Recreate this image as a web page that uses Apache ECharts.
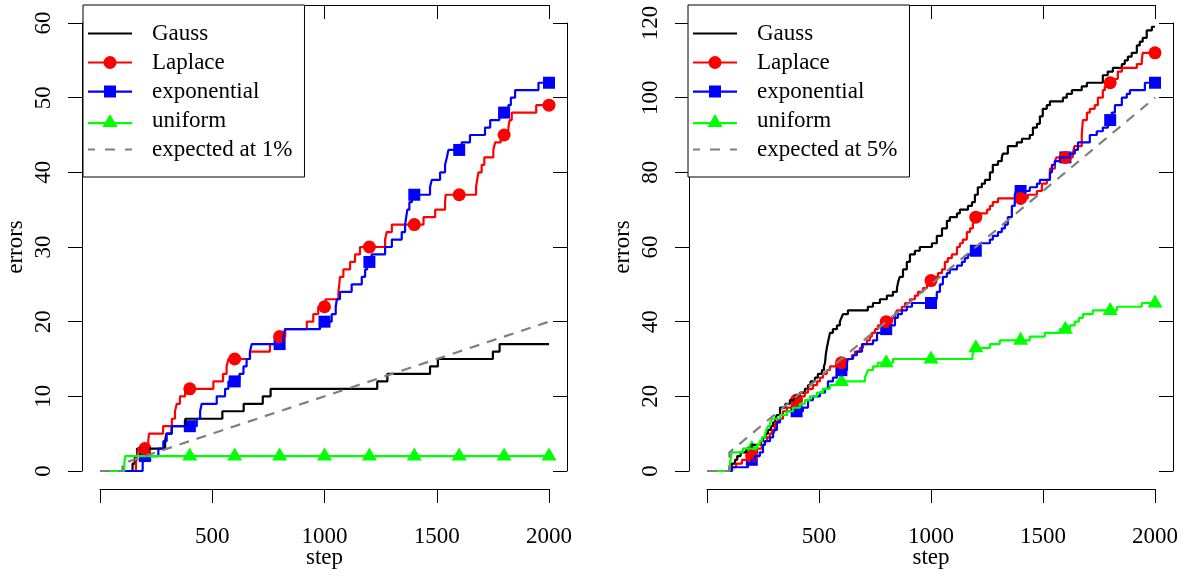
<!DOCTYPE html>
<html>
<head>
<meta charset="utf-8">
<script src="https://cdn.jsdelivr.net/npm/echarts@6/dist/echarts.min.js"></script>
<style>
  html, body { margin: 0; padding: 0; background: #fff; }
  #chart { width: 1188px; height: 577px; }
</style>
</head>
<body>
<div id="chart"></div>
<script>
// Cumulative error counts: each pair is [step, count after that step].
const gaussL = [[0,0],[145,1],[155,2],[165,3],[290,4],[295,5],[320,6],[380,7],[545,8],[640,9],[725,10],[760,11],[1235,12],[1280,13],[1470,14],[1505,15],[1750,16],[1780,17],[2000,17]];
const laplaceL = [[0,0],[160,1],[165,2],[170,3],[215,4],[218,5],[281,6],[320,7],[334,8],[342,9],[356,10],[379,11],[505,12],[548,13],[564,14],[572,15],[668,16],[757,17],[790,18],[825,19],[921,20],[950,21],[972,22],[1005,23],[1062,24],[1066,25],[1069,26],[1084,27],[1114,28],[1136,29],[1158,30],[1270,31],[1277,32],[1300,33],[1441,34],[1493,35],[1537,36],[1540,37],[1675,38],[1680,39],[1686,40],[1700,41],[1712,42],[1752,43],[1760,44],[1785,45],[1819,46],[1825,47],[1834,48],[1943,49],[2000,49]];
const expoL = [[0,0],[190,1],[194,2],[260,3],[282,4],[297,5],[319,6],[431,7],[446,8],[453,9],[520,10],[557,11],[572,12],[621,13],[639,14],[653,15],[668,16],[676,17],[817,18],[824,19],[980,20],[1032,21],[1050,22],[1055,23],[1069,24],[1121,25],[1166,26],[1181,27],[1190,28],[1210,29],[1270,30],[1300,31],[1344,32],[1359,33],[1364,34],[1369,35],[1378,36],[1389,37],[1470,38],[1478,39],[1515,40],[1537,41],[1545,42],[1552,43],[1611,44],[1648,45],[1715,46],[1738,47],[1779,48],[1819,49],[1830,50],[1849,51],[1953,52],[2000,52]];
const uniformL = [[0,0],[108,1],[112,2],[2000,2]];
const expectedL = [[0,0],[100,0],[100,1],[2000,20]];

const gaussR = [[0,0],[100,1],[110,2],[125,3],[135,4],[150,5],[175,6],[200,7],[240,8],[250,9],[262,10],[272,11],[285,12],[295,13],[305,14],[312,15],[326,17],[350,18],[370,19],[393,20],[415,21],[437,22],[451,23],[462,24],[482,25],[495,26],[513,27],[522,28],[527,29],[530,31],[535,33],[542,35],[549,37],[562,38],[580,39],[593,40],[600,41],[607,42],[629,43],[718,44],[741,45],[772,46],[803,47],[830,48],[848,49],[855,51],[861,52],[875,54],[892,56],[906,58],[928,59],[950,60],[1004,61],[1026,63],[1049,65],[1071,67],[1084,68],[1116,69],[1129,70],[1165,71],[1183,72],[1196,74],[1209,76],[1227,77],[1241,78],[1263,80],[1276,82],[1299,83],[1316,84],[1321,85],[1343,87],[1383,88],[1406,89],[1441,90],[1455,92],[1473,93],[1486,95],[1499,97],[1517,98],[1531,99],[1589,100],[1606,101],[1629,102],[1673,103],[1696,104],[1767,106],[1789,107],[1812,108],[1852,109],[1865,110],[1879,111],[1896,112],[1919,114],[1932,115],[1945,116],[1963,118],[1986,119],[2000,119]];
const laplaceR = [[0,0],[100,1],[130,2],[156,3],[190,4],[223,6],[245,7],[258,8],[268,9],[280,10],[290,11],[303,13],[317,14],[339,16],[357,17],[379,18],[395,19],[415,20],[437,21],[451,22],[473,23],[491,24],[504,25],[518,26],[535,27],[549,28],[580,29],[620,30],[647,31],[660,32],[683,33],[696,34],[714,35],[727,36],[736,37],[750,38],[763,39],[781,40],[826,41],[840,42],[848,43],[870,44],[884,45],[906,46],[928,47],[942,48],[964,49],[982,50],[995,51],[1017,52],[1031,53],[1049,54],[1062,56],[1075,57],[1093,58],[1116,60],[1129,61],[1142,62],[1160,64],[1174,65],[1187,66],[1195,68],[1218,69],[1250,70],[1263,71],[1276,72],[1299,73],[1432,74],[1473,75],[1495,77],[1517,78],[1531,81],[1553,83],[1560,84],[1633,85],[1640,87],[1673,90],[1678,94],[1696,96],[1709,97],[1731,98],[1745,100],[1767,102],[1776,103],[1790,104],[1821,105],[1834,107],[1852,108],[1919,109],[1941,110],[1945,112],[2000,112]];
const expoR = [[0,0],[112,1],[183,2],[200,3],[214,4],[236,5],[250,7],[259,8],[281,9],[295,10],[303,11],[312,13],[326,15],[357,16],[428,17],[451,19],[473,20],[504,21],[527,22],[540,24],[562,25],[580,26],[595,27],[625,29],[629,30],[652,31],[669,32],[692,34],[741,35],[759,37],[790,38],[817,39],[839,41],[852,42],[870,43],[892,44],[915,45],[1017,46],[1026,48],[1040,50],[1053,52],[1071,53],[1084,54],[1116,55],[1138,56],[1151,57],[1165,58],[1183,59],[1218,61],[1263,62],[1276,63],[1299,64],[1316,65],[1330,66],[1343,68],[1361,71],[1374,74],[1380,75],[1441,76],[1473,77],[1486,78],[1531,80],[1540,82],[1553,83],[1575,84],[1620,85],[1642,86],[1656,88],[1709,90],[1740,91],[1767,92],[1790,94],[1807,96],[1821,98],[1852,100],[1874,101],[1888,102],[1955,104],[2000,104]];
const uniformR = [[0,0],[100,1],[105,3],[110,5],[160,6],[223,7],[235,8],[245,9],[259,10],[265,11],[272,12],[282,13],[290,14],[326,15],[357,16],[384,17],[415,18],[437,19],[460,20],[491,21],[518,22],[549,23],[580,24],[705,25],[712,26],[718,27],[741,28],[763,29],[830,30],[1185,31],[1190,32],[1196,33],[1263,34],[1307,35],[1441,36],[1508,37],[1575,38],[1620,39],[1642,40],[1660,41],[1678,42],[1722,43],[1830,44],[1941,45],[2000,45]];
const expectedR = [[0,0],[100,0],[100,5],[2000,100]];

// Steps at which the point symbols are placed.
const markerSteps = [200, 400, 600, 800, 1000, 1200, 1400, 1600, 1800, 2000];

const xTicks = { min: 0, max: 2000, interval: 500 };
const yTicksL = { min: 0, max: 60, interval: 10 };
const yTicksR = { min: 0, max: 120, interval: 20 };

const FONT = 'Liberation Serif';
const FS = 23;

// value of a cumulative step series at a given step
function valueAt(pts, s) {
  let v = pts[0][1];
  for (const p of pts) { if (p[0] <= s) v = p[1]; else break; }
  return v;
}
function markers(pts) { return markerSteps.map(s => [s, valueAt(pts, s)]); }

const COLORS = { gauss: '#000000', laplace: '#ff0000', expo: '#0000ff', unif: '#00ff00', exp: '#7f7f7f' };

const ICONS = {
  line: 'path://M0,6H44V8.2H0Z',
  circle: 'path://M0,6H44V8.2H0Z M28.5,7.1A6.5,6.5 0 1 1 15.5,7.1A6.5,6.5 0 1 1 28.5,7.1Z',
  square: 'path://M0,6H44V8.2H0Z M16,1H28V13H16Z',
  triangle: 'path://M0,8H44V10.2H0Z M22,0L29.5,13H14.5Z',
  dashed: 'path://M0,6H7V8.2H0Z M17,6H27V8.2H17Z M37,6H44V8.2H37Z'
};

function axisCommon(extra) {
  return Object.assign({
    type: 'value',
    offset: 18,
    axisLine: { show: true, onZero: false, lineStyle: { color: '#000', width: 1 } },
    axisTick: { show: true, length: 14, lineStyle: { color: '#000', width: 1 } },
    splitLine: { show: false },
    axisLabel: { show: false },
    nameMoveOverlap: false,
    nameTextStyle: { fontFamily: FONT, fontSize: FS, color: '#000' }
  }, extra);
}

function xAxes(gridIndex) {
  return [
    axisCommon(Object.assign({}, xTicks, {
      gridIndex, position: 'bottom', name: 'step', nameLocation: 'middle', nameGap: 57,
      axisLabel: { show: true, margin: 36, fontFamily: FONT, fontSize: FS, color: '#000',
        formatter: v => (v === 0 ? '' : String(v)) }
    })),
    axisCommon(Object.assign({}, xTicks, {
      gridIndex, position: 'top', axisTick: { show: true, inside: true, length: 14, lineStyle: { color: '#000', width: 1 } }
    }))
  ];
}
function yAxes(gridIndex, ticks) {
  return [
    axisCommon(Object.assign({}, ticks, {
      gridIndex, position: 'left', name: 'errors', nameLocation: 'middle', nameGap: 55, nameRotate: 90,
      axisLabel: { show: true, rotate: 90, margin: 27, fontFamily: FONT, fontSize: FS, color: '#000' }
    })),
    axisCommon(Object.assign({}, ticks, {
      gridIndex, position: 'right', axisTick: { show: true, inside: true, length: 14, lineStyle: { color: '#000', width: 1 } }
    }))
  ];
}

function panelSeries(xi, yi, g, l, e, u, ex, exName) {
  const line = (name, data, color, extra) => Object.assign({
    type: 'line', name, data, xAxisIndex: xi, yAxisIndex: yi, step: 'end',
    symbol: 'none', clip: false, silent: true,
    lineStyle: { color, width: 2.2 }, itemStyle: { color }
  }, extra || {});
  const pts = (name, data, color, symbol, size, offset) => ({
    type: 'scatter', name, data: markers(data), xAxisIndex: xi, yAxisIndex: yi,
    symbol, symbolSize: size, symbolOffset: offset || [0, 0], clip: false, silent: true,
    itemStyle: { color, opacity: 1 }
  });
  return [
    line('Gauss', g, COLORS.gauss),
    line('Laplace', l, COLORS.laplace),
    line('exponential', e, COLORS.expo),
    line('uniform', u, COLORS.unif),
    line(exName, ex, COLORS.exp, { step: false, lineStyle: { color: COLORS.exp, width: 2.2, type: [10, 8] } }),
    pts('uniform', u, COLORS.unif, 'triangle', [15, 13], [0, -2]),
    pts('exponential', e, COLORS.expo, 'rect', 12),
    pts('Laplace', l, COLORS.laplace, 'circle', 13)
  ];
}

function legendAt(left, exName) {
  return {
    left, top: 5, orient: 'vertical',
    backgroundColor: '#fff', borderColor: '#000', borderWidth: 1, borderRadius: 0,
    padding: [17, 12, 16, 5], itemGap: 6, itemWidth: 44, itemHeight: 14,
    selectedMode: false, z: 10,
    textStyle: { fontFamily: FONT, fontSize: FS, color: '#000', lineHeight: 22, padding: [0, 0, 0, 15] },
    itemStyle: { borderWidth: 0 },
    data: [
      { name: 'Gauss', icon: ICONS.line },
      { name: 'Laplace', icon: ICONS.circle },
      { name: 'exponential', icon: ICONS.square },
      { name: 'uniform', icon: ICONS.triangle },
      { name: exName, icon: ICONS.dashed }
    ]
  };
}

const chart = echarts.init(document.getElementById('chart'), null, { renderer: 'canvas' });
chart.setOption({
  backgroundColor: '#fff',
  animation: false,
  grid: [
    { left: 100, top: 23, width: 449, height: 448, outerBoundsMode: 'none', containLabel: false },
    { left: 707, top: 23, width: 448, height: 448, outerBoundsMode: 'none', containLabel: false }
  ],
  xAxis: [...xAxes(0), ...xAxes(1)],
  yAxis: [...yAxes(0, yTicksL), ...yAxes(1, yTicksR)],
  legend: [legendAt(83, 'expected at 1%'), legendAt(688, 'expected at 5%')],
  series: [
    ...panelSeries(0, 0, gaussL, laplaceL, expoL, uniformL, expectedL, 'expected at 1%'),
    ...panelSeries(2, 2, gaussR, laplaceR, expoR, uniformR, expectedR, 'expected at 5%')
  ]
});
</script>
</body>
</html>
